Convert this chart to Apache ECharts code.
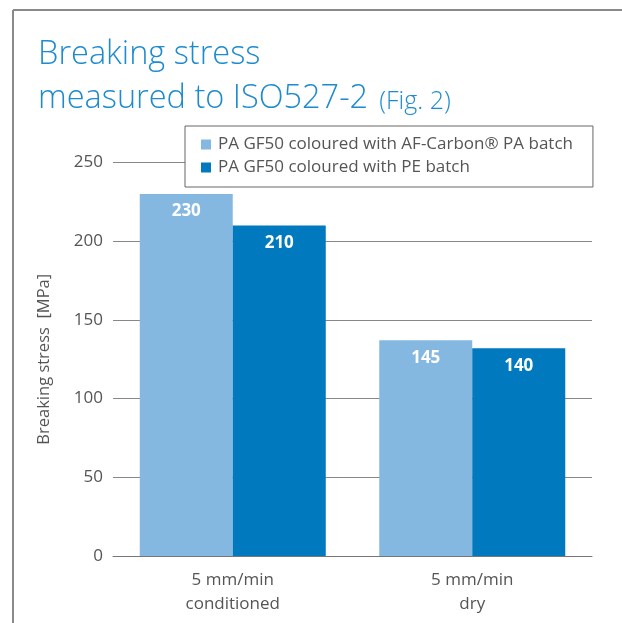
<!DOCTYPE html>
<html>
<head>
    <title>Breaking stress</title>
    <meta charset="UTF-8">
    <script src="https://cdn.jsdelivr.net/npm/echarts@6/dist/echarts.min.js"></script>
    <style>
        html, body {margin: 0; padding: 0; background: #fff;}
        #main {width: 622px; height: 623px;}
    </style>
</head>
<body>
<div id="main"></div>
<script>
    var categories = ['5 mm/min\nconditioned', '5 mm/min\ndry'];
    var seriesNames = ['PA GF50 coloured with AF-Carbon\u00ae PA batch', 'PA GF50 coloured with PE batch'];
    // bar heights as drawn in the figure
    var afCarbonValues = [230, 137];
    var peValues = [210, 132];
    // values printed on the bars
    var afCarbonLabels = ['230', '145'];
    var peLabels = ['210', '140'];
    var yTicks = [0, 50, 100, 150, 200, 250];

    var textGray = '#555';

    function barLabel(list) {
        return {
            show: true,
            position: 'insideTop',
            distance: 9,
            color: '#fff',
            fontWeight: 'bold',
            fontSize: 17,
            fontFamily: 'Open Sans',
            formatter: function (p) { return list[p.dataIndex]; }
        };
    }

    var option = {
        animation: false,
        title: {
            left: 33,
            top: 28,
            text: '{a|Breaking stress}\n{a|measured to ISO527-2} {b|(Fig. 2)}',
            textStyle: {
                rich: {
                    a: {fontSize: 32.5, fontFamily: 'Open Sans', fontWeight: 300, color: '#1e8bcf', lineHeight: 44},
                    b: {fontSize: 25, fontFamily: 'Open Sans', fontWeight: 300, color: '#1e8bcf', lineHeight: 44, padding: [5, 0, 0, 6]}
                }
            }
        },
        legend: {
            orient: 'vertical',
            left: 185,
            top: 126,
            padding: [10, 20, 11, 16],
            itemGap: 6,
            itemWidth: 10,
            itemHeight: 10,
            icon: 'rect',
            backgroundColor: '#fff',
            borderColor: '#666',
            borderWidth: 1,
            textStyle: {fontSize: 17, fontFamily: 'Open Sans', color: textGray, padding: [0, 0, 0, 2]},
            data: seriesNames
        },
        grid: {left: 113, right: 30, top: 162.5, bottom: 67},
        xAxis: {
            type: 'category',
            data: categories,
            axisTick: {show: false},
            axisLine: {lineStyle: {color: '#777', width: 1}},
            axisLabel: {fontSize: 17, fontFamily: 'Open Sans', color: textGray, lineHeight: 24, margin: 12}
        },
        yAxis: {
            type: 'value',
            min: yTicks[0],
            max: yTicks[yTicks.length - 1],
            interval: 50,
            name: 'Breaking stress  [MPa]',
            nameLocation: 'middle',
            nameGap: 60,
            nameTextStyle: {fontSize: 16.5, fontFamily: 'Open Sans', color: textGray},
            axisLabel: {fontSize: 17, fontFamily: 'Open Sans', color: textGray, margin: 10},
            splitLine: {lineStyle: {color: '#888', width: 1}}
        },
        graphic: [
            {type: 'line', shape: {x1: 13, y1: 10, x2: 622, y2: 10}, style: {stroke: '#8a8a8a', lineWidth: 2}},
            {type: 'line', shape: {x1: 13, y1: 10, x2: 13, y2: 623}, style: {stroke: '#8a8a8a', lineWidth: 2}}
        ],
        series: [
            {
                name: seriesNames[0],
                type: 'bar',
                barWidth: 93,
                barGap: '0%',
                itemStyle: {color: '#85b8e0'},
                label: barLabel(afCarbonLabels),
                data: afCarbonValues
            },
            {
                name: seriesNames[1],
                type: 'bar',
                barWidth: 93,
                barGap: '0%',
                itemStyle: {color: '#0079be'},
                label: barLabel(peLabels),
                data: peValues
            }
        ]
    };

    var myChart = echarts.init(document.getElementById('main'));
    myChart.setOption(option);
</script>
</body>
</html>
